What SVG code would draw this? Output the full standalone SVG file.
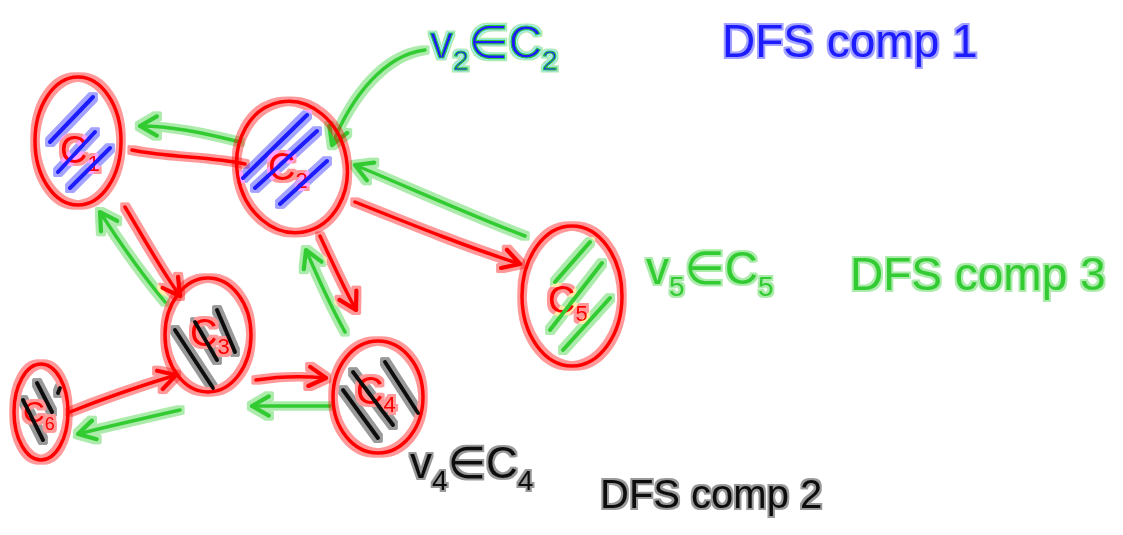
<svg xmlns="http://www.w3.org/2000/svg" width="1123" height="535" viewBox="0 0 1123 535">
<defs>
<filter id="glow" x="-20%" y="-20%" width="140%" height="140%">
<feMorphology in="SourceGraphic" operator="dilate" radius="2.5" result="d"/>
<feComponentTransfer in="d" result="h"><feFuncA type="linear" slope="0.4"/></feComponentTransfer>
<feMerge><feMergeNode in="h"/><feMergeNode in="SourceGraphic"/></feMerge>
</filter>
<filter id="glow2" x="-10%" y="-20%" width="120%" height="140%">
<feMorphology in="SourceGraphic" operator="dilate" radius="1.5" result="d"/>
<feComponentTransfer in="d" result="h"><feFuncA type="linear" slope="0.4"/></feComponentTransfer>
<feMerge><feMergeNode in="h"/><feMergeNode in="SourceGraphic"/></feMerge>
</filter>
<marker id="ar" markerUnits="userSpaceOnUse" markerWidth="24" markerHeight="24" refX="16" refY="10" orient="auto" viewBox="0 0 20 20">
<path d="M2,2 L16,10 L2,18" fill="none" stroke="#ff0000" stroke-width="3.5" stroke-linecap="round" stroke-linejoin="round"/>
</marker>
<marker id="ag" markerUnits="userSpaceOnUse" markerWidth="24" markerHeight="24" refX="16" refY="10" orient="auto" viewBox="0 0 20 20">
<path d="M2,2 L16,10 L2,18" fill="none" stroke="#33cc33" stroke-width="3.5" stroke-linecap="round" stroke-linejoin="round"/>
</marker>
</defs>
<style>
.ring{fill:none;stroke:#ff0000;stroke-width:3.5}
.h{fill:none;stroke-width:4;stroke-linecap:round}
.hb{stroke:#1a1aff}
.hg{stroke:#33cc33}
.hk{stroke:#111}
.lab{fill:#ff0000;font-family:"Liberation Sans","DejaVu Sans",sans-serif;font-size:38px}
.sub{font-size:22px}
.er{fill:none;stroke:#ff0000;stroke-width:3.5;stroke-linecap:round;marker-end:url(#ar)}
.eg{fill:none;stroke:#33cc33;stroke-width:3.5;stroke-linecap:round;marker-end:url(#ag)}
.t{font-family:"Liberation Sans","DejaVu Sans",sans-serif;font-size:46px}
.ts{font-size:28px}
.gl{filter:url(#glow)}
.gl2{filter:url(#glow2)}
</style>
<rect width="1123" height="535" fill="#fff"/>

<g id="connectors" class="gl">
<path class="eg" d="M240,142 C200,132 170,126 140,126"/>
<path class="er" d="M132,150 C170,158 210,156 245,164" style="marker-end:none"/>
<path class="eg" d="M525,236 C470,215 410,188 355,165"/>
<path class="er" d="M355,202 C420,228 470,248 520,264"/>
<path class="eg" d="M165,302 C140,272 118,240 100,212"/>
<path class="er" d="M125,207 C145,240 160,268 180,296"/>
<path class="eg" d="M345,332 C330,305 318,278 306,250"/>
<path class="er" d="M320,236 C332,262 344,288 356,310"/>
<path class="er" d="M256,380 C280,376 305,376 326,378"/>
<path class="eg" d="M330,406 C305,406 278,406 252,406"/>
<path class="er" d="M70,412 C105,398 140,386 176,375"/>
<path class="eg" d="M180,410 C145,418 110,426 78,434"/>
<path class="eg" d="M425,50 C385,55 352,95 332,145"/>
</g>

<g id="C1" class="gl">
<ellipse class="ring" cx="78" cy="141" rx="43" ry="64"/>
<text class="lab" x="60" y="163">C<tspan class="sub" dy="8">1</tspan></text>
<path class="h hb" d="M50,142 L93,97 M58,172 L95,132 M70,188 L110,148"/>
</g>

<g id="C2" class="gl">
<ellipse class="ring" cx="292" cy="167" rx="55" ry="66" transform="rotate(-10 292 167)"/>
<text class="lab" x="268" y="180">C<tspan class="sub" dy="8">2</tspan></text>
<path class="h hb" d="M243,178 L307,115 M255,188 L317,131 M280,204 L327,161"/>
</g>

<g id="C5" class="gl">
<ellipse class="ring" cx="572" cy="296" rx="50" ry="70"/>
<text class="lab" x="548" y="313">C<tspan class="sub" dy="8">5</tspan></text>
<path class="h hg" d="M555,282 L590,242 M550,330 L602,263 M563,350 L610,298"/>
</g>

<g id="C3" class="gl">
<ellipse class="ring" cx="208" cy="335" rx="43" ry="57"/>
<text class="lab" x="190" y="346">C<tspan class="sub" dy="8">3</tspan></text>
<path class="h hk" d="M175,330 L213,388 M195,322 L217,360 M217,310 L235,352"/>
</g>

<g id="C4" class="gl">
<ellipse class="ring" cx="378" cy="397" rx="45" ry="56"/>
<text class="lab" x="356" y="404">C<tspan class="sub" dy="8">4</tspan></text>
<path class="h hk" d="M343,390 L378,438 M353,372 L393,425 M385,362 L418,413"/>
</g>

<g id="C6" class="gl">
<ellipse class="ring" cx="41" cy="412" rx="27" ry="48"/>
<text class="lab" x="23" y="422" style="font-size:30px">C<tspan style="font-size:18px" dy="8">6</tspan></text>
<path class="h hk" d="M23,400 L43,440 M37,383 L52,412 M58,393 L60,388"/>
</g>

<g id="labels" class="gl2">
<text class="t" x="430" y="58" fill="#1a1aff" stroke="#33cc33" stroke-width="1.2">v<tspan class="ts" dy="12">2</tspan><tspan dy="-12">∈C</tspan><tspan class="ts" dy="12">2</tspan></text>
<text class="t" x="722" y="57" fill="#1a1aff">DFS comp 1</text>
<text class="t" x="646" y="284" fill="#33cc33">v<tspan class="ts" dy="12">5</tspan><tspan dy="-12">∈C</tspan><tspan class="ts" dy="12">5</tspan></text>
<text class="t" x="850" y="290" fill="#33cc33">DFS comp 3</text>
<text class="t" x="410" y="478" fill="#111" style="font-size:44px">v<tspan class="ts" dy="12">4</tspan><tspan dy="-12">∈C</tspan><tspan class="ts" dy="12">4</tspan></text>
<text class="t" x="600" y="508" fill="#111" style="font-size:40px">DFS comp 2</text>
</g>
</svg>
